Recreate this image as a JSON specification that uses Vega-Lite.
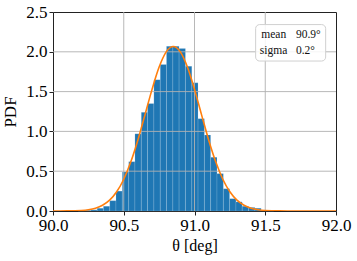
{
  "$schema": "https://vega.github.io/schema/vega-lite/v6.json",
  "width": 283,
  "height": 199,
  "autosize": "none",
  "padding": {"left": 53, "top": 12, "right": 21, "bottom": 50},
  "background": "white",
  "config": {
    "view": {"stroke": "#222", "strokeWidth": 1},
    "axis": {
      "labelFont": "Liberation Serif",
      "labelFontSize": 17,
      "labelColor": "#000",
      "titleFont": "Liberation Serif",
      "titleFontSize": 17,
      "titleFontWeight": "normal",
      "titleColor": "#000",
      "domain": false,
      "grid": false,
      "tickColor": "#222",
      "tickSize": 4,
      "labelPadding": 2,
      "labelOverlap": false,
      "labelFlush": false
    }
  },
  "resolve": {"axis": {"x": "independent", "y": "independent"}},
  "datasets": {
    "hist": [
      {"x0": 90.178, "x1": 90.222, "pdf": 0.004},
      {"x0": 90.222, "x1": 90.267, "pdf": 0.008},
      {"x0": 90.267, "x1": 90.312, "pdf": 0.015},
      {"x0": 90.312, "x1": 90.356, "pdf": 0.035},
      {"x0": 90.356, "x1": 90.401, "pdf": 0.06},
      {"x0": 90.401, "x1": 90.445, "pdf": 0.13},
      {"x0": 90.445, "x1": 90.490, "pdf": 0.25},
      {"x0": 90.490, "x1": 90.535, "pdf": 0.49},
      {"x0": 90.535, "x1": 90.579, "pdf": 0.62},
      {"x0": 90.579, "x1": 90.624, "pdf": 0.97},
      {"x0": 90.624, "x1": 90.668, "pdf": 1.24},
      {"x0": 90.668, "x1": 90.713, "pdf": 1.35},
      {"x0": 90.713, "x1": 90.758, "pdf": 1.65},
      {"x0": 90.758, "x1": 90.802, "pdf": 1.84},
      {"x0": 90.802, "x1": 90.847, "pdf": 2.07},
      {"x0": 90.847, "x1": 90.891, "pdf": 2.07},
      {"x0": 90.891, "x1": 90.936, "pdf": 2.04},
      {"x0": 90.936, "x1": 90.981, "pdf": 1.82},
      {"x0": 90.981, "x1": 91.025, "pdf": 1.61},
      {"x0": 91.025, "x1": 91.070, "pdf": 1.16},
      {"x0": 91.070, "x1": 91.114, "pdf": 0.955},
      {"x0": 91.114, "x1": 91.159, "pdf": 0.675},
      {"x0": 91.159, "x1": 91.204, "pdf": 0.47},
      {"x0": 91.204, "x1": 91.248, "pdf": 0.28},
      {"x0": 91.248, "x1": 91.293, "pdf": 0.155},
      {"x0": 91.293, "x1": 91.337, "pdf": 0.115},
      {"x0": 91.337, "x1": 91.382, "pdf": 0.06},
      {"x0": 91.382, "x1": 91.427, "pdf": 0.045},
      {"x0": 91.427, "x1": 91.471, "pdf": 0.035},
      {"x0": 91.471, "x1": 91.516, "pdf": 0.012},
      {"x0": 91.516, "x1": 91.560, "pdf": 0.006}
    ],
    "fit": [
      {"x": 90.0, "y": 0.0001},
      {"x": 90.1, "y": 0.0011},
      {"x": 90.2, "y": 0.0071},
      {"x": 90.25, "y": 0.0165},
      {"x": 90.3, "y": 0.0356},
      {"x": 90.35, "y": 0.072},
      {"x": 90.4, "y": 0.136},
      {"x": 90.45, "y": 0.241},
      {"x": 90.5, "y": 0.399},
      {"x": 90.55, "y": 0.618},
      {"x": 90.6, "y": 0.893},
      {"x": 90.65, "y": 1.208},
      {"x": 90.7, "y": 1.528},
      {"x": 90.75, "y": 1.808},
      {"x": 90.8, "y": 1.999},
      {"x": 90.85, "y": 2.067},
      {"x": 90.9, "y": 1.999},
      {"x": 90.95, "y": 1.808},
      {"x": 91.0, "y": 1.528},
      {"x": 91.05, "y": 1.208},
      {"x": 91.1, "y": 0.893},
      {"x": 91.15, "y": 0.618},
      {"x": 91.2, "y": 0.399},
      {"x": 91.25, "y": 0.241},
      {"x": 91.3, "y": 0.136},
      {"x": 91.35, "y": 0.072},
      {"x": 91.4, "y": 0.0356},
      {"x": 91.45, "y": 0.0165},
      {"x": 91.5, "y": 0.0071},
      {"x": 91.6, "y": 0.0011},
      {"x": 91.7, "y": 0.0001},
      {"x": 92.0, "y": 0.0}
    ],
    "vgrid": [{"g": 90.5}, {"g": 91.0}, {"g": 91.5}],
    "hgrid": [{"g": 0.5}, {"g": 1.0}, {"g": 1.5}, {"g": 2.0}],
    "stats": [{"stat": "mean", "val": "90.9°"}]
  },
  "layer": [
    {
      "data": {"name": "hist"},
      "mark": {"type": "bar", "color": "#1f77b4", "stroke": "#ffffff", "strokeWidth": 0.4, "strokeOpacity": 0.35},
      "encoding": {
        "x": {
          "field": "x0", "type": "quantitative",
          "scale": {"domain": [90, 92], "nice": false, "zero": false},
          "axis": {"values": [90, 90.5, 91, 91.5, 92], "format": ".1f", "labelFlush": false, "labelOverlap": false, "title": "θ [deg]", "titlePadding": 4, "titleFontSize": 16}
        },
        "x2": {"field": "x1"},
        "y": {
          "field": "pdf", "type": "quantitative",
          "scale": {"domain": [0, 2.5], "nice": false},
          "axis": {"values": [0, 0.5, 1, 1.5, 2, 2.5], "format": ".1f", "labelOverlap": false, "labelFlush": false, "title": "PDF", "titlePadding": 6}
        },
        "y2": {"datum": 0}
      }
    },
    {
      "data": {"name": "vgrid"},
      "mark": {"type": "rule", "color": "#b0b0b0", "strokeWidth": 1, "opacity": 0.9},
      "encoding": {"x": {"field": "g", "type": "quantitative", "axis": null}}
    },
    {
      "data": {"name": "hgrid"},
      "mark": {"type": "rule", "color": "#b0b0b0", "strokeWidth": 1, "opacity": 0.9},
      "encoding": {"y": {"field": "g", "type": "quantitative", "axis": null}}
    },
    {
      "data": {"name": "fit"},
      "mark": {"type": "line", "color": "#ff7f0e", "strokeWidth": 1.6, "interpolate": "monotone", "clip": true},
      "encoding": {
        "x": {"field": "x", "type": "quantitative", "axis": null},
        "y": {"field": "y", "type": "quantitative", "axis": null}
      }
    },
    {
      "data": {"name": "stats"},
      "mark": {"type": "rect", "fill": "white", "fillOpacity": 0.85, "stroke": "#d0d0d0", "strokeWidth": 1, "cornerRadius": 4},
      "encoding": {
        "x": {"datum": 91.432, "type": "quantitative", "axis": null},
        "x2": {"datum": 91.927},
        "y": {"datum": 2.342, "type": "quantitative", "axis": null},
        "y2": {"datum": 1.884}
      }
    },
    {
      "data": {"name": "stats"},
      "mark": {"type": "text", "text": "mean", "align": "left", "baseline": "alphabetic", "font": "Liberation Serif", "fontSize": 11.5, "color": "#111"},
      "encoding": {
        "x": {"datum": 91.472, "type": "quantitative", "axis": null},
        "y": {"datum": 2.175, "type": "quantitative", "axis": null}
      }
    },
    {
      "data": {"name": "stats"},
      "mark": {"type": "text", "text": "90.9°", "align": "left", "baseline": "alphabetic", "font": "Liberation Serif", "fontSize": 11.5, "color": "#111"},
      "encoding": {
        "x": {"datum": 91.717, "type": "quantitative", "axis": null},
        "y": {"datum": 2.175, "type": "quantitative", "axis": null}
      }
    },
    {
      "data": {"name": "stats"},
      "mark": {"type": "text", "text": "sigma", "align": "left", "baseline": "alphabetic", "font": "Liberation Serif", "fontSize": 11.5, "color": "#111"},
      "encoding": {
        "x": {"datum": 91.462, "type": "quantitative", "axis": null},
        "y": {"datum": 1.967, "type": "quantitative", "axis": null}
      }
    },
    {
      "data": {"name": "stats"},
      "mark": {"type": "text", "text": "0.2°", "align": "left", "baseline": "alphabetic", "font": "Liberation Serif", "fontSize": 11.5, "color": "#111"},
      "encoding": {
        "x": {"datum": 91.717, "type": "quantitative", "axis": null},
        "y": {"datum": 1.967, "type": "quantitative", "axis": null}
      }
    }
  ]
}
